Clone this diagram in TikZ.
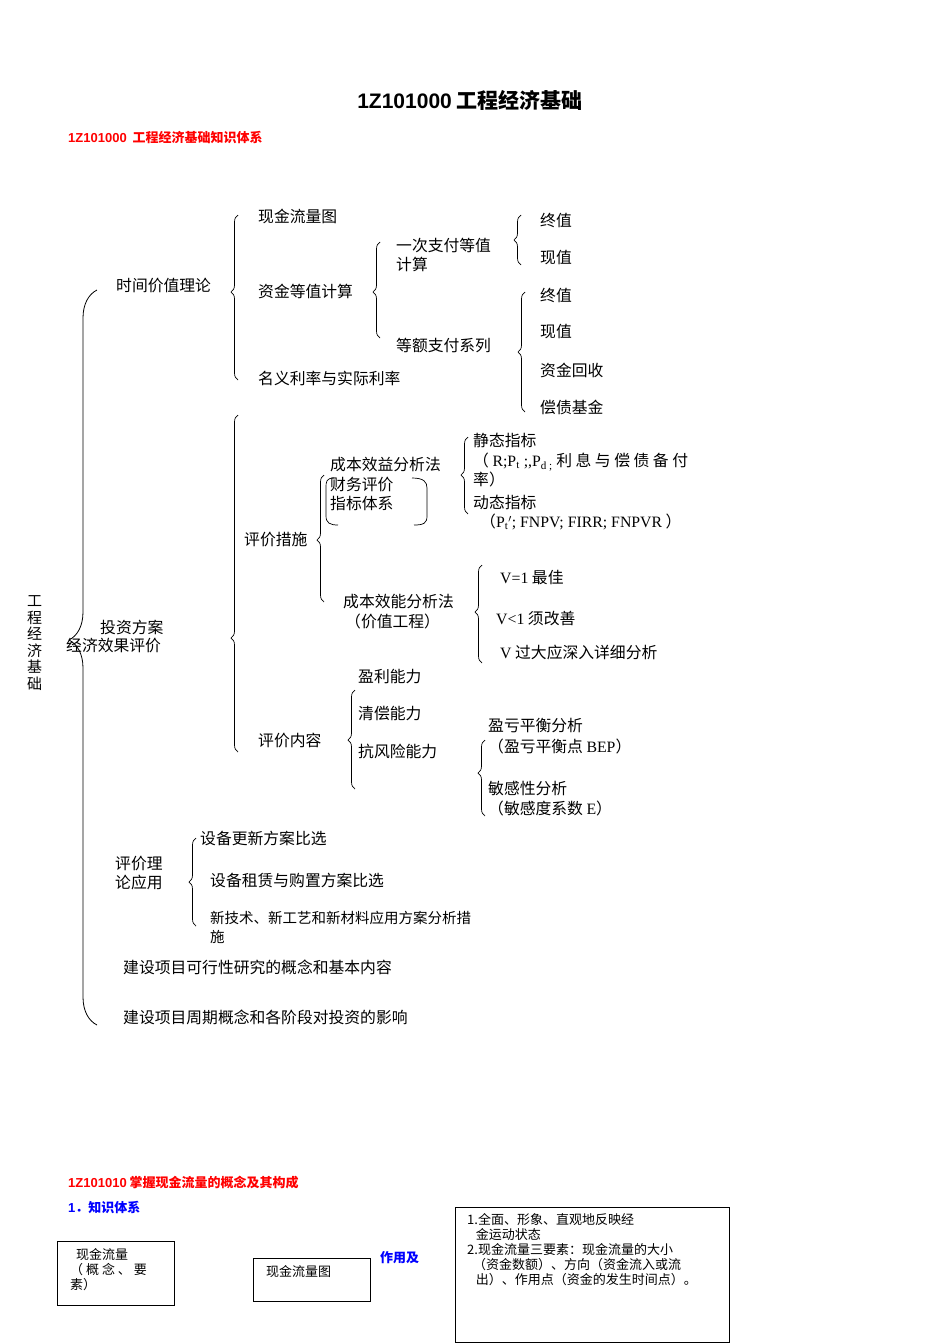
\documentclass[tikz,border=0pt]{standalone}
\usepackage{fontspec}
\setmainfont{Noto Sans CJK SC}
\newfontfamily\lat{Liberation Serif}
\newfontfamily\hd{Liberation Sans}
\usetikzlibrary{decorations.pathreplacing}
\tikzset{
 t/.style={anchor=west,inner sep=0pt,font=\fontsize{15.8}{19}\selectfont,align=left},
 br/.style={decorate,decoration={brace,amplitude=7pt,aspect=#1},line width=0.7pt},
 bigbr/.style={decorate,decoration={brace,amplitude=28pt,aspect=#1},line width=0.8pt},
 bx/.style={draw,line width=0.9pt},
}
\newcommand{\lbr}[4]{\pgfmathsetmacro\asp{(#3-#4)/(#3-#2)}\draw[br=\asp] (#1,#3) -- (#1,#2);}
\begin{document}
\begin{tikzpicture}[x=1pt,y=-1pt]
\useasboundingbox (0,0) rectangle (950,1344);
\node[font=\fontsize{21}{24}\selectfont\bfseries] (title) at (470,100) {{\hd 1Z101000} 工程经济基础};
\node[t,text=red,font=\fontsize{13}{15}\selectfont\bfseries] (h1) at (68,137) {{\hd 1Z101000}\ \ 工程经济基础知识体系};
\node[t,align=center,font=\fontsize{15}{16.5}\selectfont] (root) at (27,643) {工\\程\\经\\济\\基\\础};
% big brace
\pgfmathsetmacro\asp{(1025-640)/(1025-290)}
\draw[bigbr=\asp] (97,1025) -- (97,290);
\node[t] (a1) at (116,286) {时间价值理论};
\lbr{238}{215}{380}{292}
\node[t] (b1) at (258,216) {现金流量图};
\node[t] (b2) at (258,291) {资金等值计算};
\node[t] (b3) at (258,378) {名义利率与实际利率};
\lbr{380}{242}{338}{292}
\node[t] (c1) at (396,255) {一次支付等值\\计算};
\node[t] (c2) at (396,345) {等额支付系列};
\lbr{521}{215}{265}{240}
\node[t] (d1) at (540,220) {终值};
\node[t] (d2) at (540,258) {现值};
\lbr{525}{292}{412}{352}
\node[t] (e1) at (540,295) {终值};
\node[t] (e2) at (540,332) {现值};
\node[t] (e3) at (540,370) {资金回收};
\node[t] (e4) at (540,407) {偿债基金};
% investment
\node[t] (a2) at (100,627) {投资方案};
\node[t] (a2b) at (66,646) {经济效果评价};
\lbr{238}{415}{752}{638}
\node[t] (f1) at (244,540) {评价措施};
\lbr{324}{475}{602}{540}
\node[t] (g1) at (330,465) {成本效益分析法};
\node[t] (g2) at (330,494) {财务评价\\指标体系};
\draw[line width=0.7pt] (334,478) .. controls (326,478) and (326,482) .. (326,488) -- (326,516) .. controls (326,523) and (330,525) .. (338,525);
\draw[line width=0.7pt] (412,478) .. controls (424,478) and (427,482) .. (427,488) -- (427,516) .. controls (427,523) and (424,525) .. (414,525);
\lbr{468}{437}{514}{475}
\node[t] (h1a) at (473,440) {静态指标};
\node[t] (h2) at (473,470) {（ {\lat R;P\textsubscript{t} ;,P\textsubscript{d ;}} 利 息 与 偿 债 备 付\\率）};
\node[t] (h3) at (473,502) {动态指标};
\node[t] (h4) at (480,522) {（{\lat P\textsubscript{t}$'$; FNPV; FIRR; FNPVR} ）};
\node[t] (g3) at (343,602) {成本效能分析法};
\node[t] (g4) at (345,621) {（价值工程）};
\lbr{482}{565}{663}{612}
\node[t] (i1) at (500,577) {{\lat V=1} 最佳};
\node[t] (i2) at (496,619) {{\lat V<1} 须改善};
\node[t] (i3) at (500,652) {{\lat V} 过大应深入详细分析};
\node[t] (f2) at (258,740) {评价内容};
\lbr{355}{690}{789}{740}
\node[t] (j1) at (358,677) {盈利能力};
\node[t] (j2) at (358,713) {清偿能力};
\node[t] (j3) at (358,751) {抗风险能力};
\lbr{485}{740}{816}{773}
\node[t] (k1) at (488,726) {盈亏平衡分析};
\node[t] (k2) at (488,746) {（盈亏平衡点 {\lat BEP}）};
\node[t] (k3) at (488,788) {敏感性分析};
\node[t] (k4) at (488,808) {（敏感度系数 {\lat E}）};
% application
\node[t] (a3) at (115,873) {评价理\\论应用};
\lbr{196}{838}{926}{882}
\node[t] (l1) at (200,838) {设备更新方案比选};
\node[t] (l2) at (210,880) {设备租赁与购置方案比选};
\node[t,font=\fontsize{14.5}{19}\selectfont] (l3) at (210,927) {新技术、新工艺和新材料应用方案分析措\\施};
\node[t] (a4) at (123,967) {建设项目可行性研究的概念和基本内容};
\node[t] (a5) at (123,1017) {建设项目周期概念和各阶段对投资的影响};
% bottom part
\node[t,text=red,font=\fontsize{13}{15}\selectfont\bfseries] (h5) at (68,1183) {{\hd 1Z101010} 掌握现金流量的概念及其构成};
\node[t,text=blue,font=\fontsize{13}{15}\selectfont\bfseries] (h6) at (68,1207) {{\hd 1}．知识体系};
\draw[bx] (57,1241) rectangle (174,1305);
\node[t,font=\fontsize{13}{15}\selectfont] (m1) at (70,1270) {\ \ 现金流量\\（ 概 念 、 要\\素）};
\draw[bx] (253,1258) rectangle (370,1301);
\node[t,font=\fontsize{13}{15}\selectfont] (m2) at (266,1272) {现金流量图};
\node[t,text=blue,font=\fontsize{13}{15}\selectfont\bfseries] (m3) at (380,1258) {作用及};
\draw[bx] (455,1207) rectangle (729,1342);
\node[t,font=\fontsize{13}{15}\selectfont,anchor=north west] (m4) at (467,1213) {1.全面、形象、直观地反映经\\\ \ \ 金运动状态\\2.现金流量三要素：现金流量的大小\\\ \ （资金数额）、方向（资金流入或流\\\ \ \ 出）、作用点（资金的发生时间点）。};
\end{tikzpicture}
\end{document}
